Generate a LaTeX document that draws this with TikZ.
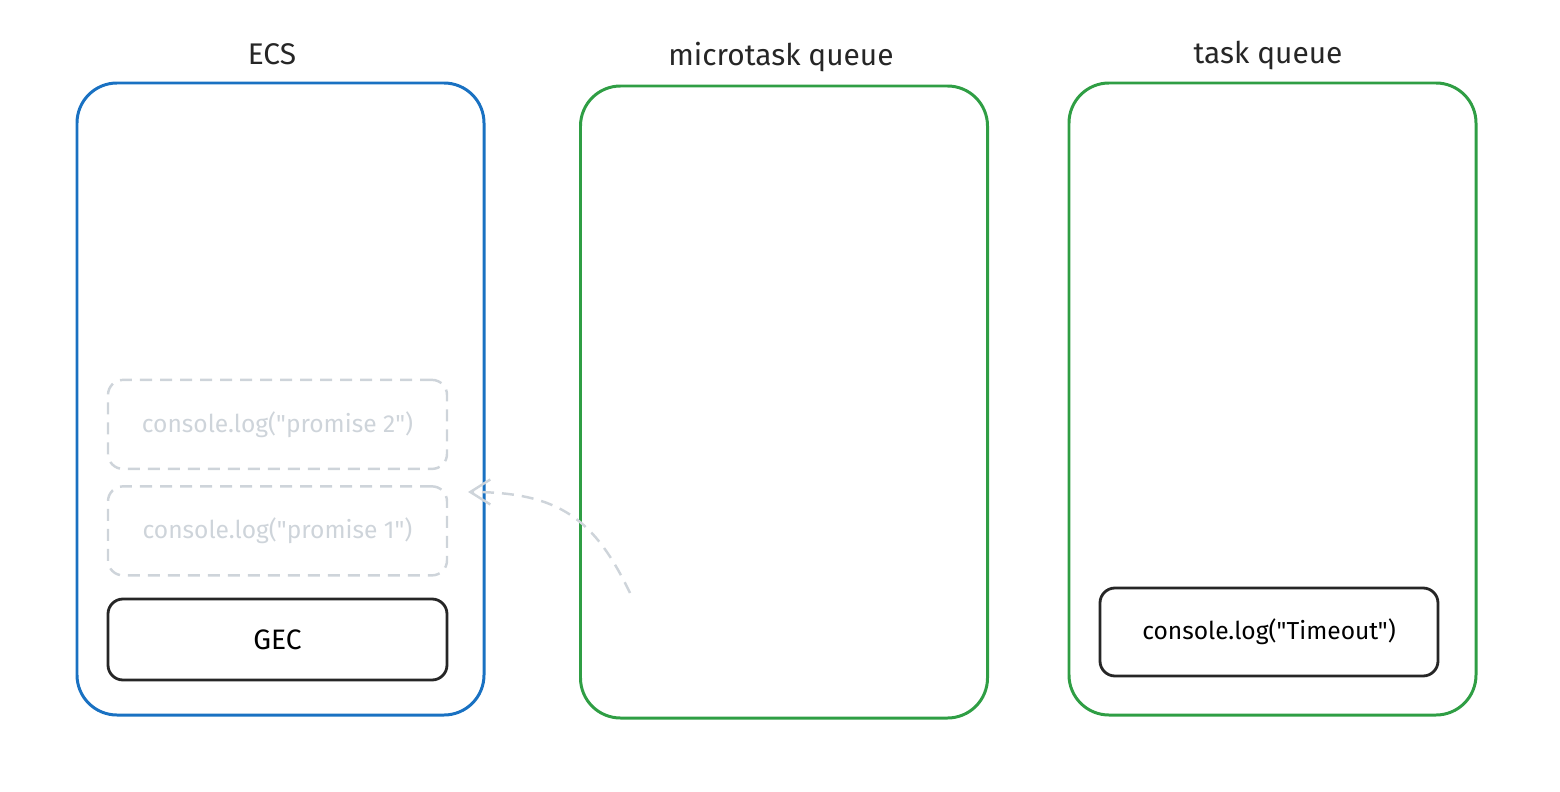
\documentclass[tikz,border=0pt]{standalone}
\usepackage{fontspec}
\setmainfont{Fira Sans}[Ligatures=TeXOff]
\usepackage{xcolor}
\usetikzlibrary{arrows.meta,positioning}
\definecolor{ecsblue}{HTML}{1971C2}
\definecolor{qgreen}{HTML}{2F9E44}
\definecolor{ghost}{HTML}{CED4DA}

\begin{document}
\begin{tikzpicture}[x=0.2mm,y=-0.2mm,font=\fontsize{14}{17}\selectfont,>={Straight Barb[length=4mm,width=5mm]},node distance=4mm,
  area/.style={draw,rounded corners=8mm,line width=1.7pt,minimum width=81.4mm,minimum height=126.4mm},
  title/.style={font=\fontsize{17}{20}\selectfont,text=black!85},
  frame/.style={draw=black!85,rounded corners=3mm,line width=1.6pt,minimum width=67.8mm,align=center},
  faded/.style={frame,draw=ghost,text=ghost,line width=1.4pt,dash pattern=on 2.4mm off 1.6mm}]
\useasboundingbox (0,0) rectangle (1560,792);
% the three columns
\node[area,draw=ecsblue] (ecs) at (280.5,399) {};
\node[area,draw=qgreen] (micro) at (784,402) {};
\node[area,draw=qgreen] (task) at (1272.5,399) {};
\node[title] (ecslab) at (272,54) {ECS};
\node[title] (microlab) at (781,57) {microtask queue};
\node[title] (tasklab) at (1268,55) {task queue};
% call stack
\node[frame,minimum height=16.2mm,font=\fontsize{16}{19}\selectfont] (gec) at (277.5,639.5) {GEC};
\node[faded,minimum height=17.8mm,above=4.2mm of gec] (prom1) {console.log("promise 1")};
\node[faded,minimum height=17.8mm,above=3mm of prom1] (prom2) {console.log("promise 2")};
% task queue
\node[frame,minimum width=67.6mm,minimum height=17.6mm] (timeout) at (1269,632) {console.log("Timeout")};
% microtasks moved to the stack
\coordinate (mfrom) at (630,593);
\coordinate (mto) at (468,492);
\draw[->,ghost,line width=1.4pt,dash pattern=on 2.4mm off 1.6mm] (mfrom) .. controls (595,520) and (560,492) .. (mto);
\end{tikzpicture}
\end{document}
